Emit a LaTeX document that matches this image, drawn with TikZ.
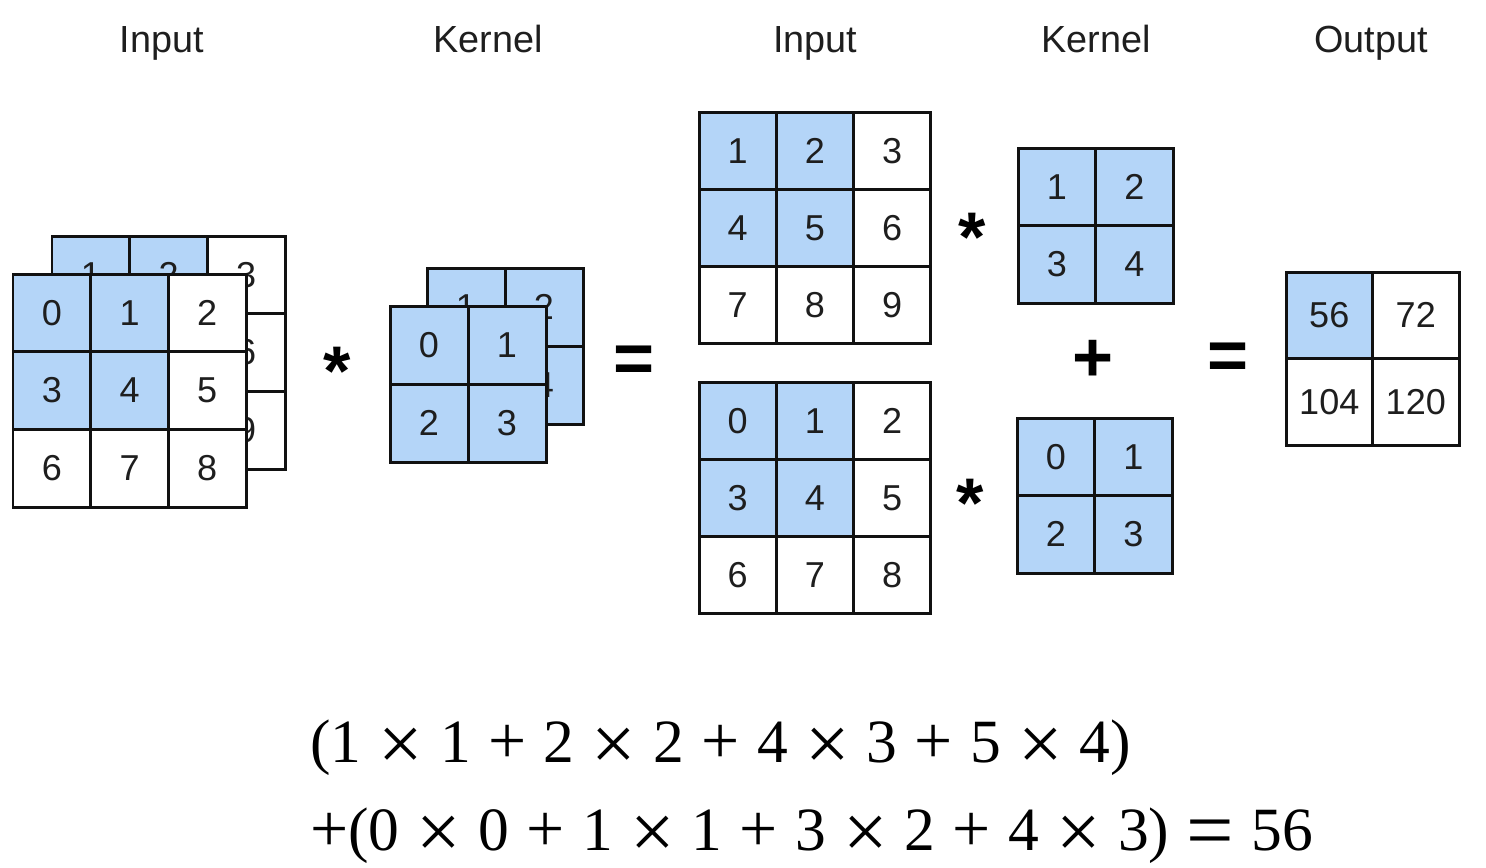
\documentclass[tikz,border=0pt]{standalone}
\usepackage{fontspec}
\setsansfont{Liberation Sans}
\newfontfamily\formulafont[WordSpace=1.12]{Liberation Serif}
\usetikzlibrary{positioning}
\definecolor{cellblue}{HTML}{B4D5F8}
\definecolor{gridblack}{HTML}{111111}
\definecolor{textgray}{HTML}{1E1E1E}
% name, left, top, cell size (px), entries value/column/row/fill
\newcommand{\cellgrid}[5]{%
	\foreach \v/\i/\j/\f in {#5}
		\node[cell, fill=\f, minimum size=#4*0.02cm]
			(#1-\v) at ({#2+(\i+0.5)*#4},{#3+(\j+0.5)*#4}) {\v};
}
% larger operator signs in the worked sum
\newcommand{\sumop}[3]{\raisebox{#2}{\fontsize{#1}{#1}\selectfont #3}}
\newcommand{\tms}{\sumop{45}{-0.14em}{×}}
\newcommand{\pls}{\sumop{38.5}{-0.02em}{+}}
\newcommand{\eqs}{\sumop{48}{-0.14em}{=}}

\begin{document}
\begin{tikzpicture}[
		x=0.02cm, y=-0.02cm,
		every node/.style={font=\sffamily\fontsize{20.5}{24}\selectfont},
		cell/.style={
			draw=gridblack,
			line width=1.7pt,
			inner sep=0pt,
			text=textgray
		},
		heading/.style={
			anchor=base,
			font=\sffamily\fontsize{21.5}{26}\selectfont,
			text=textgray
		},
		op/.style={font=\sffamily\bfseries\fontsize{40}{48}\selectfont, inner sep=0pt},
		formula/.style={
			anchor=base west,
			inner sep=0pt,
			font=\formulafont\fontsize{35}{42}\selectfont
		}
	]
		\useasboundingbox (0,0) rectangle (1486,867);

		% column headings
		\node[heading] (in-head) at (162,52) {Input};
		\node[heading] (ker-head) at (488,52) {Kernel};
		\node[heading] (in2-head) at (815,52) {Input};
		\node[heading] (ker2-head) at (1096,52) {Kernel};
		\node[heading] (out-head) at (1371,52) {Output};

		% stacked input and kernel
		\cellgrid{inb}{52}{236}{77.7}{1/0/0/cellblue, 2/1/0/cellblue, 3/2/0/white,
			4/0/1/cellblue, 5/1/1/cellblue, 6/2/1/white, 7/0/2/white, 8/1/2/white, 9/2/2/white}
		\cellgrid{inf}{13}{274}{77.7}{0/0/0/cellblue, 1/1/0/cellblue, 2/2/0/white,
			3/0/1/cellblue, 4/1/1/cellblue, 5/2/1/white, 6/0/2/white, 7/1/2/white, 8/2/2/white}
		\cellgrid{kerb}{427}{268}{78}{1/0/0/cellblue, 2/1/0/cellblue, 3/0/1/cellblue, 4/1/1/cellblue}
		\cellgrid{kerf}{390}{306}{78}{0/0/0/cellblue, 1/1/0/cellblue, 2/0/1/cellblue, 3/1/1/cellblue}

		\node[op] (star) at (337,371) {*};
		\node[op] (eq) at (634,364) {=};

		% channel by channel
		\cellgrid{top}{699}{112}{77.3}{1/0/0/cellblue, 2/1/0/cellblue, 3/2/0/white,
			4/0/1/cellblue, 5/1/1/cellblue, 6/2/1/white, 7/0/2/white, 8/1/2/white, 9/2/2/white}
		\cellgrid{bot}{699}{382}{77.3}{0/0/0/cellblue, 1/1/0/cellblue, 2/2/0/white,
			3/0/1/cellblue, 4/1/1/cellblue, 5/2/1/white, 6/0/2/white, 7/1/2/white, 8/2/2/white}
		\cellgrid{topk}{1018}{148}{77.5}{1/0/0/cellblue, 2/1/0/cellblue, 3/0/1/cellblue, 4/1/1/cellblue}
		\cellgrid{botk}{1017}{418}{77.5}{0/0/0/cellblue, 1/1/0/cellblue, 2/0/1/cellblue, 3/1/1/cellblue}

		\node[op] (star-top) at (972,237) {*};
		\node[op] (star-bot) at (970,503) {*};
		\node[op] (plus) at (1093,361) {+};
		\node[op] (eq2) at (1228,361) {=};

		\cellgrid{out}{1286}{272}{86.5}{56/0/0/cellblue, 72/1/0/white, 104/0/1/white, 120/1/1/white}

		% worked sum
		\node[formula] (sum-a) at (310,762)
			{(1 \tms{} 1 \pls{} 2 \tms{} 2 \pls{} 4 \tms{} 3 \pls{} 5 \tms{} 4)};
		\node[formula] (sum-b) at (310,850)
			{\pls(0 \tms{} 0 \pls{} 1 \tms{} 1 \pls{} 3 \tms{} 2 \pls{} 4 \tms{} 3) \eqs{} 56};
	\end{tikzpicture}
\end{document}
